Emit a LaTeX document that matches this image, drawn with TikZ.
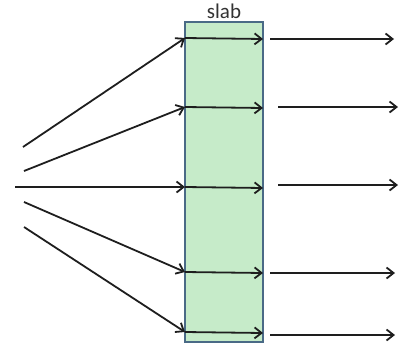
\documentclass[tikz,border=0pt]{standalone}
\usepackage{fontspec}
\setmainfont{Carlito}
\usetikzlibrary{arrows.meta}
\definecolor{slabfill}{HTML}{C6EBC9}
\definecolor{slabedge}{HTML}{4A6A86}
\definecolor{ray}{HTML}{1E1E1E}
\definecolor{labtext}{HTML}{333333}
\tikzset{
  ray/.style={draw=ray, line width=1.8pt, -{Straight Barb[length=7pt,width=11pt,line width=1.8pt]}},
  slabbox/.style={draw=slabedge, fill=slabfill, line width=1.3pt, minimum width=78pt, minimum height=320pt, inner sep=0pt, outer sep=0pt},
}
\begin{document}
\begin{tikzpicture}[x=1pt,y=-1pt]
\useasboundingbox (0,0) rectangle (399,346);
\node[slabbox] (slab) at (224,182) {};
\node[font=\fontsize{21pt}{22pt}\selectfont, text=labtext, inner sep=0pt, anchor=base] (lab) at (224,18) {slab};
% sources
\coordinate (s1) at (23,147);
\coordinate (s2) at (24,171);
\coordinate (s3) at (15,187);
\coordinate (s4) at (24,202);
\coordinate (s5) at (24,227);
% entry points
\coordinate (e1) at (185,38);
\coordinate (e2) at (185,107);
\coordinate (e3) at (185,187);
\coordinate (e4) at (185,272);
\coordinate (e5) at (185,332);
% exits inside slab
\coordinate (x1) at (263,39);
\coordinate (x2) at (263,108);
\coordinate (x3) at (263,188);
\coordinate (x4) at (263,273);
\coordinate (x5) at (263,333);
% outside arrows
\coordinate (o1a) at (270,39);  \coordinate (o1b) at (394,39);
\coordinate (o2a) at (278,107); \coordinate (o2b) at (398,107);
\coordinate (o3a) at (278,185); \coordinate (o3b) at (398,185);
\coordinate (o4a) at (270,273); \coordinate (o4b) at (395,273);
\coordinate (o5a) at (270,335); \coordinate (o5b) at (395,335);
\foreach \i in {1,...,5}{
  \draw[ray] (s\i) -- (e\i);
  \draw[ray] (e\i) -- (x\i);
  \draw[ray] (o\i a) -- (o\i b);
}
\end{tikzpicture}
\end{document}
